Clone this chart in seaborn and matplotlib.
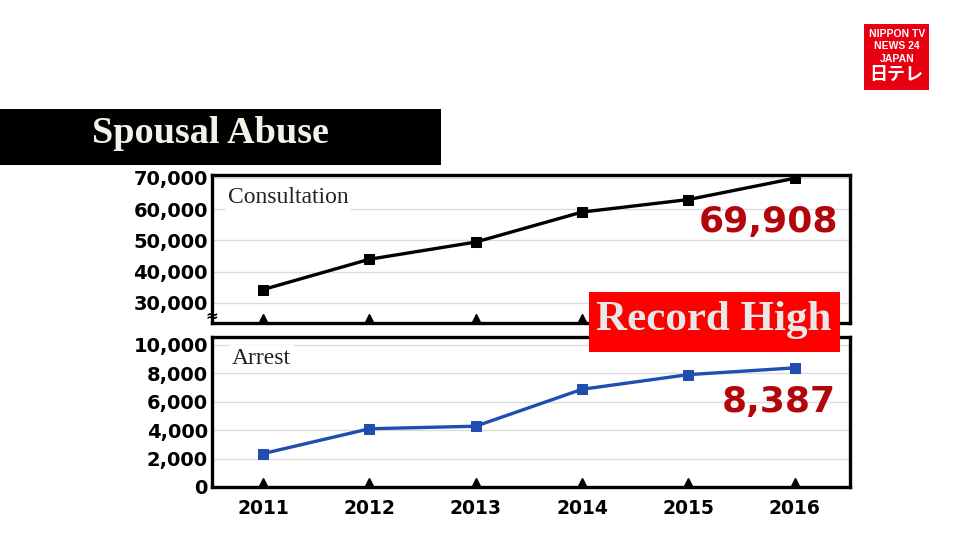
import matplotlib
matplotlib.use("Agg")
import matplotlib.pyplot as plt
import matplotlib.patches as mpatches
import seaborn as sns
import pandas as pd

# data
years = [2011, 2012, 2013, 2014, 2015, 2016]
consultation = [34300, 44000, 49500, 59100, 63100, 69908]
arrest = [2350, 4100, 4280, 6880, 7910, 8387]
top_ticks = [30000, 40000, 50000, 60000, 70000]
bottom_ticks = [0, 2000, 4000, 6000, 8000, 10000]
title = "Spousal Abuse"
top_label = "Consultation"
bottom_label = "Arrest"
top_value = "69,908"
bottom_value = "8,387"
badge = "Record High"

df = pd.DataFrame({"year": years, "consultation": consultation, "arrest": arrest})

sns.set_style("white")
plt.rcParams["font.family"] = ["DejaVu Sans"]
plt.rcParams["text.color"] = "black"
plt.rcParams["xtick.color"] = "black"
plt.rcParams["ytick.color"] = "black"

W, H = 980, 551
fig = plt.figure(figsize=(W / 100, H / 100), dpi=100)
fig.patch.set_facecolor("white")


def px_axes(left, top, right, bottom):
    return fig.add_axes([left / W, 1 - bottom / H, (right - left) / W, (bottom - top) / H])


ax1 = px_axes(212, 175, 850, 323)
ax2 = px_axes(212, 337, 850, 487)

sns.lineplot(data=df, x="year", y="consultation", ax=ax1, color="black",
             marker="s", markersize=7, linewidth=2.4, markeredgecolor="black", zorder=5)
sns.lineplot(data=df, x="year", y="arrest", ax=ax2, color="#1f4db0",
             marker="s", markersize=7, linewidth=2.4, markeredgecolor="#1f4db0", zorder=5)

ax1.set_ylim(23600, 70960)
ax2.set_ylim(0, 10560)
ax1.set_yticks(top_ticks)
ax1.set_yticklabels([f"{v:,}" for v in top_ticks])
ax2.set_yticks(bottom_ticks)
ax2.set_yticklabels([f"{v:,}" for v in bottom_ticks])

for ax in (ax1, ax2):
    ax.set_xlim(2010.52, 2016.52)
    ax.set_xticks(years)
    ax.set_xlabel("")
    ax.set_ylabel("")
    ax.grid(axis="y", color="#dcdcdc", linewidth=1)
    ax.tick_params(length=0)
    ax.tick_params(axis="y", pad=3, labelsize=14, labelcolor="black")
    for lab in ax.get_yticklabels():
        lab.set_fontweight("bold")
    for s in ax.spines.values():
        s.set_linewidth(2.4)
        s.set_color("black")
    # small triangle ticks sitting on the bottom border
    ax.plot(years, [0.035] * len(years), linestyle="none", marker="^", markersize=6,
            color="black", transform=ax.get_xaxis_transform(), clip_on=False, zorder=6)

ax1.set_xticklabels([])
ax2.set_xticklabels([str(y) for y in years])
ax2.tick_params(axis="x", pad=9, labelsize=13.5, labelcolor="black")
for lab in ax2.get_xticklabels():
    lab.set_fontweight("bold")

# series labels
ax1.text(0.025, 0.85, top_label, transform=ax1.transAxes, family="Liberation Serif",
         fontsize=17, va="center", ha="left", zorder=7, color="#222222",
         bbox=dict(facecolor="white", edgecolor="none", pad=2))
ax2.text(0.031, 0.86, bottom_label, transform=ax2.transAxes, family="Liberation Serif",
         fontsize=17, va="center", ha="left", zorder=7, color="#222222",
         bbox=dict(facecolor="white", edgecolor="none", pad=2))

# big red values
ax1.text(0.981, 0.68, top_value, transform=ax1.transAxes, color="#b3060b",
         fontsize=26, fontweight="bold", ha="right", va="center", zorder=7)
ax2.text(0.978, 0.565, bottom_value, transform=ax2.transAxes, color="#b3060b",
         fontsize=26, fontweight="bold", ha="right", va="center", zorder=7)

# axis break mark
fig.text(212 / W, 1 - 316 / H, "≈", fontsize=11, fontweight="bold", ha="center", va="center")

# "Record High" badge
fig.patches.append(mpatches.Rectangle((589 / W, 1 - 352 / H), 251 / W, 60 / H,
                                      transform=fig.transFigure, facecolor="#ff0000",
                                      edgecolor="none", zorder=10))
fig.text(714 / W, 1 - 320 / H, badge, family="Liberation Serif", fontweight="bold",
         fontsize=31, color="#e8e8e8", ha="center", va="center", zorder=11)

# title bar
fig.patches.append(mpatches.Rectangle((0, 1 - 165 / H), 441 / W, 56 / H,
                                      transform=fig.transFigure, facecolor="black",
                                      edgecolor="none", zorder=10))
fig.text(210 / W, 1 - 134 / H, title, family="Liberation Serif", fontweight="bold",
         fontsize=27.5, color="#f2f2e6", ha="center", va="center", zorder=11)

# broadcaster logo
fig.patches.append(mpatches.Rectangle((864 / W, 1 - 90 / H), 65 / W, 66 / H,
                                      transform=fig.transFigure, facecolor="#e60012",
                                      edgecolor="none", zorder=10))
for i, line in enumerate(["NIPPON TV", "NEWS 24", "JAPAN"]):
    fig.text(897 / W, 1 - (34 + 12.5 * i) / H, line, family="Liberation Sans",
             fontweight="bold", fontsize=7.5, color="white", ha="center", va="center", zorder=11)
fig.text(896 / W, 1 - 74 / H, "日テレ", family=["Noto Sans CJK JP", "DejaVu Sans"],
         fontweight="bold", fontsize=13, color="white", ha="center", va="center", zorder=11)

fig.savefig("out.png", dpi=100, facecolor="white")
